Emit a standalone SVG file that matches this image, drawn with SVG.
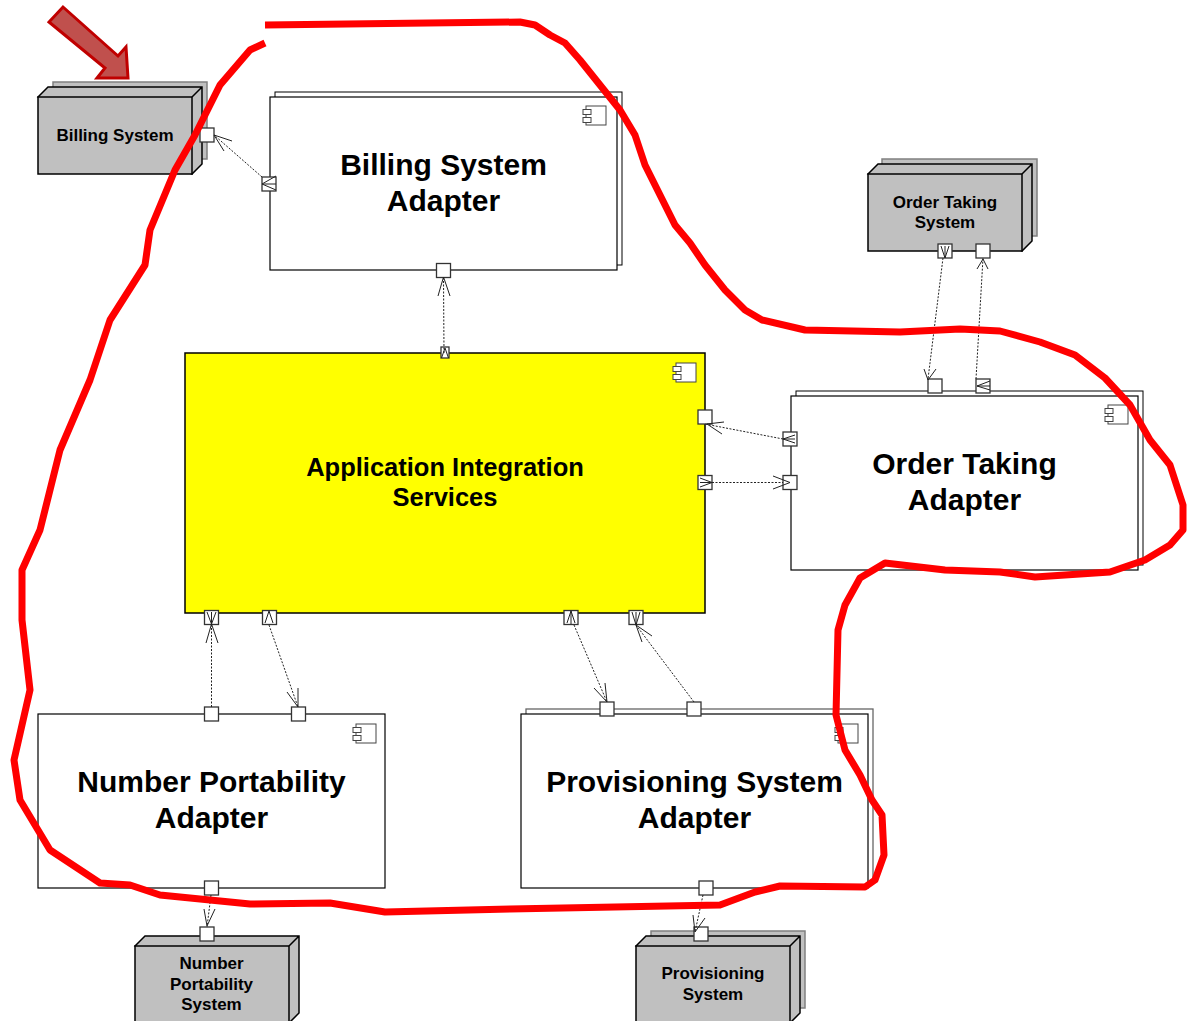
<svg xmlns="http://www.w3.org/2000/svg" width="1191" height="1021" viewBox="0 0 1191 1021">
<style>
.bk{fill:#c0c0c0;stroke:#808080;stroke-width:1.5}
.sys{fill:#c0c0c0;stroke:#000;stroke-width:1.5;stroke-linejoin:miter}
.abk{fill:#fff;stroke:#000;stroke-width:1}
.abx{fill:#fff;stroke:#000;stroke-width:1.2}
.ic{fill:#fff;stroke:#444;stroke-width:1}
.port{fill:#fff;stroke:#333;stroke-width:1.3}
.dash{fill:none;stroke:#222;stroke-width:1;stroke-dasharray:2 1.5}
.head{fill:none;stroke:#222;stroke-width:1}
text{font-family:"Liberation Sans",Arial,sans-serif;font-weight:bold;fill:#000;text-anchor:middle}
.s{font-size:17px}.l{font-size:30px}.m{font-size:25.5px}
</style>
<defs>
<g id="ico"><rect class="ic" x="3" y="0" width="20" height="19"/><rect class="ic" x="0" y="3.500" width="8" height="5"/><rect class="ic" x="0" y="11.500" width="8" height="5"/></g>
<path id="sysshape" d="M0 0h154v77h-154zM0 0l10-10h154v77l-10 10M154 0l10-10"/>
</defs>
<g id="billing-system">
<rect class="bk" x="53" y="82" width="154" height="77"/>
<path class="sys" d="M38 97l10-10h154v77l-10 10zM192 97l10-10"/>
<rect class="sys" x="38" y="97" width="154" height="77"/>
<text class="s" x="115" y="141">Billing System</text>
</g>
<g id="order-taking-system">
<rect class="bk" x="882" y="159" width="155" height="77"/>
<path class="sys" d="M868 174l10-10h154v77l-10 10zM1022 174l10-10"/>
<rect class="sys" x="868" y="174" width="154" height="77"/>
<text class="s" x="945" y="208">Order Taking</text>
<text class="s" x="945" y="228">System</text>
</g>
<g id="number-portability-system">
<path class="sys" d="M135 946l10-10h154v77l-10 10zM289 946l10-10"/>
<rect class="sys" x="135" y="946" width="154" height="77"/>
<text class="s" x="211.500" y="969">Number</text>
<text class="s" x="211.500" y="990">Portability</text>
<text class="s" x="211.500" y="1010">System</text>
</g>
<g id="provisioning-system">
<rect class="bk" x="651" y="931" width="154" height="77"/>
<path class="sys" d="M636 946l10-10h154v77l-10 10zM790 946l10-10"/>
<rect class="sys" x="636" y="946" width="154" height="77"/>
<text class="s" x="713" y="979">Provisioning</text>
<text class="s" x="713" y="1000">System</text>
</g>
<g id="billing-adapter">
<rect class="abk" x="275" y="92" width="347" height="173"/>
<rect class="abx" x="270" y="97" width="347" height="173"/>
<use href="#ico" x="583" y="106"/>
<text class="l" x="443.500" y="175">Billing System</text>
<text class="l" x="443.500" y="211">Adapter</text>
</g>
<g id="order-adapter">
<rect class="abk" x="796" y="391" width="347" height="174"/>
<rect class="abx" x="791" y="396" width="347" height="174"/>
<use href="#ico" x="1105" y="405"/>
<text class="l" x="964.500" y="474">Order Taking</text>
<text class="l" x="964.500" y="510">Adapter</text>
</g>
<g id="number-adapter">
<rect class="abx" x="38" y="714" width="347" height="174"/>
<use href="#ico" x="353" y="724"/>
<text class="l" x="211.500" y="792">Number Portability</text>
<text class="l" x="211.500" y="828">Adapter</text>
</g>
<g id="provisioning-adapter">
<rect class="abk" x="526" y="709" width="347" height="174" style="stroke:#666;stroke-width:1.300"/>
<rect class="abx" x="521" y="714" width="347" height="174"/>
<use href="#ico" x="835" y="724"/>
<text class="l" x="694.500" y="792">Provisioning System</text>
<text class="l" x="694.500" y="828">Adapter</text>
</g>
<g id="application-integration-services">
<rect x="185" y="353" width="520" height="260" fill="#ffff00" stroke="#000" stroke-width="1.500"/>
<use href="#ico" x="673" y="363"/>
<text class="m" x="445" y="476">Application Integration</text>
<text class="m" x="445" y="506">Services</text>
</g>
<g id="ports">
<rect class="port" x="200" y="128" width="14" height="14"/>
<rect class="port" x="262" y="177" width="14" height="14"/>
<rect class="port" x="436.500" y="263.500" width="14" height="14"/>
<rect class="port" x="441" y="347" width="8" height="11"/>
<rect class="port" x="938" y="244" width="14" height="14"/>
<rect class="port" x="976" y="244" width="14" height="14"/>
<rect class="port" x="928" y="379" width="14" height="14"/>
<rect class="port" x="976" y="379" width="14" height="14"/>
<rect class="port" x="698" y="410" width="14" height="14"/>
<rect class="port" x="698" y="475.500" width="14" height="14"/>
<rect class="port" x="783" y="432" width="14" height="14"/>
<rect class="port" x="783" y="475.500" width="14" height="14"/>
<rect class="port" x="204.500" y="610.500" width="14" height="14"/>
<rect class="port" x="262.500" y="610.500" width="14" height="14"/>
<rect class="port" x="564" y="610.500" width="14" height="14"/>
<rect class="port" x="629" y="610.500" width="14" height="14"/>
<rect class="port" x="204.500" y="707" width="14" height="14"/>
<rect class="port" x="291.500" y="707" width="14" height="14"/>
<rect class="port" x="600" y="702" width="14" height="14"/>
<rect class="port" x="687" y="702" width="14" height="14"/>
<rect class="port" x="204.500" y="881" width="14" height="14"/>
<rect class="port" x="200" y="927" width="14" height="14"/>
<rect class="port" x="699" y="881" width="14" height="14"/>
<rect class="port" x="694" y="927" width="14" height="14"/>
</g>
<g id="connectors">
<path class="dash" d="M262 177L214 135"/><path class="head" d="M232 141L214 135L224 151"/><path class="head" d="M276 176L262 184L276 190M262 184H276"/>
<path class="dash" d="M444 353L443.500 277"/><path class="head" d="M438 296L443.500 277L450 296"/><path class="head" d="M441.500 358L445 348L448.500 358"/>
<path class="dash" d="M943 258L928 379"/><path class="head" d="M924 369L928 380L936 369"/><path class="head" d="M941 246L945 258L949 246M945 246V258"/>
<path class="dash" d="M976 379L983 258"/><path class="head" d="M977 269L983 259L988 269"/><path class="head" d="M990 381L977 386L990 390M977 386H990"/>
<path class="dash" d="M783 439L705 424"/><path class="head" d="M724 422L707 424L722 434"/><path class="head" d="M795 435L783 439L795 443M783 439H795"/>
<path class="dash" d="M712 482.500H783"/><path class="head" d="M773 476L790 482.500L773 489"/><path class="head" d="M700 478L712 482.500L700 487M700 482.500H712"/>
<path class="dash" d="M211.500 707V624"/><path class="head" d="M206 643L211.500 624L218 643"/><path class="head" d="M207 612L211.500 624L216 612M211.500 612V624"/>
<path class="dash" d="M269 625L298 707"/><path class="head" d="M287 692L298 707L298 688"/><path class="head" d="M265 623L269 611L273 623"/>
<path class="dash" d="M574 625L607 702"/><path class="head" d="M594 688L607 702L605 683"/><path class="head" d="M567 623L571 611L575 623M571 611V624"/>
<path class="dash" d="M694 702L636 625"/><path class="head" d="M652 636L636 625L642 642"/><path class="head" d="M632 612L636 625L640 612M636 612V625"/>
<path class="dash" d="M211 895L207 927"/><path class="head" d="M204 909L207 926L215 909"/>
<path class="dash" d="M703 895L695 932"/><path class="head" d="M693 915L695 932L705 918"/>
</g>
<g id="red-outline" fill="none" stroke="#ff0000" stroke-width="7" stroke-linejoin="round">
<path d="M265 25L520 22L535 25L550 35L565 43L580 60L600 85L620 110L635 135L645 165L660 195L675 225L690 243L705 265L725 290L745 310L762 320L805 330L900 332L960 329L1000 331L1040 342L1075 355L1105 378L1130 405L1150 440L1170 465L1183 505L1183 530L1170 545L1145 560L1110 572L1035 577L1000 572L945 570L885 563L860 578L845 605L838 630L836 715L845 750L860 775L872 800L882 815L884 855L875 880L865 887L780 886L755 892L720 905L510 909L385 912L330 903L250 904L160 895L130 885L100 883L50 850L20 800L14 760L30 690L22 620L22 570L40 530L60 450L90 380L110 320L145 265L150 230L175 170L195 135L220 85L250 50L265 43"/>
</g>
<polygon id="pointer" points="63,7 118,56 126,47 128,78 97,78 105,68 49,22" fill="#c0504d" stroke="#c00000" stroke-width="3"/>
</svg>
